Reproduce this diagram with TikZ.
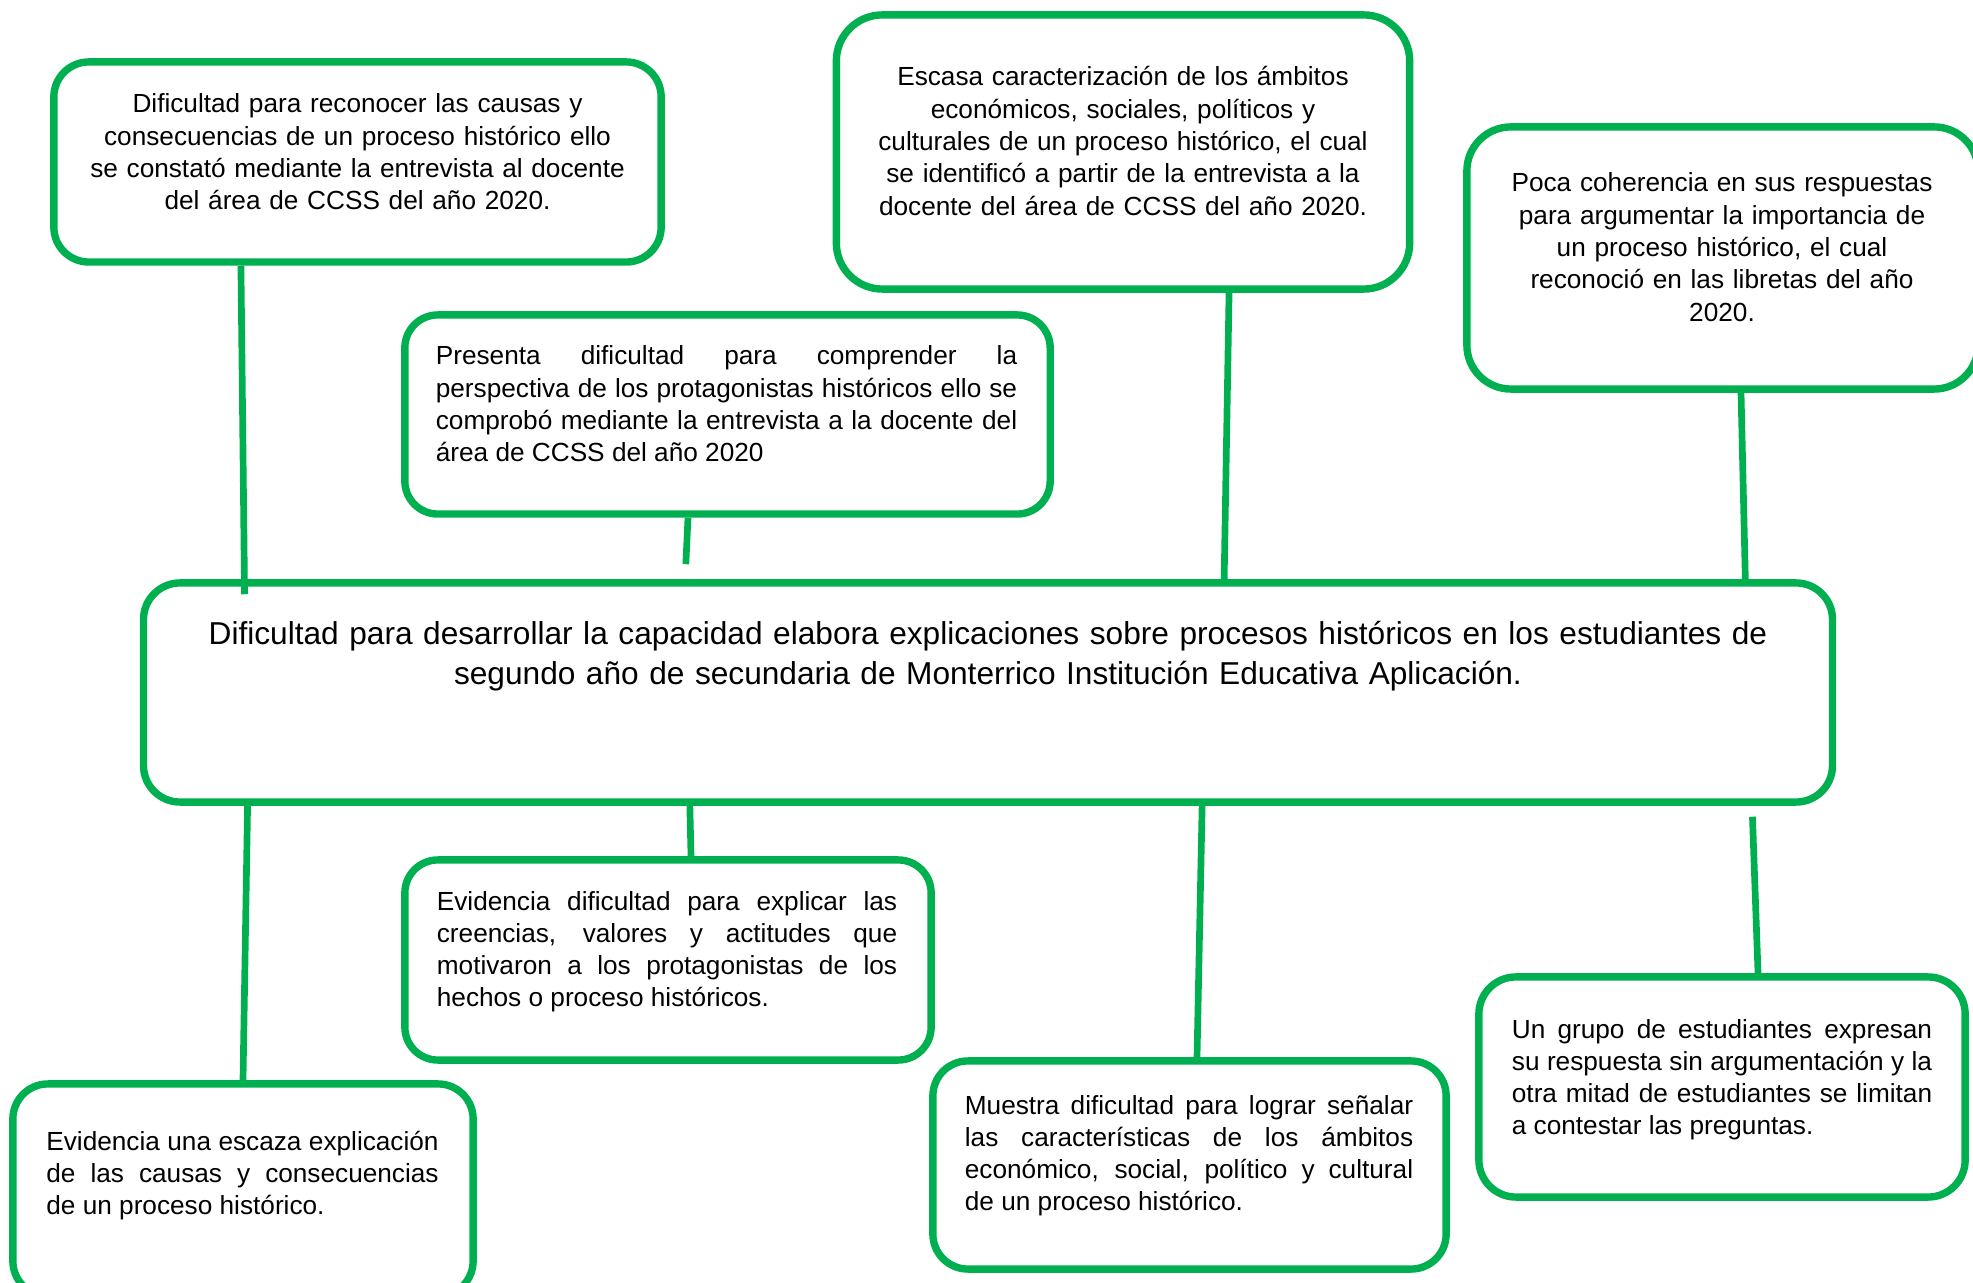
\documentclass[tikz,border=0pt]{standalone}
\usepackage{fontspec}
\setmainfont{Liberation Sans}
\definecolor{boxgreen}{RGB}{0,176,80}
\tolerance=10000
\hbadness=10000
\hyphenpenalty=10000
\begin{document}
\begin{tikzpicture}[x=0.01cm, y=-0.01cm,
      probbox/.style={draw=boxgreen, line width=2.1pt, rounded corners=0.35cm, inner sep=0pt},
      notetext/.style={inner sep=0pt, anchor=base, font=\fontsize{7.45}{9.19}\selectfont},
      linkline/.style={draw=boxgreen, line width=1.9pt}]
    \useasboundingbox (0,0) rectangle (1973,1283);
    \clip (0,0) rectangle (1973,1283);
    % central problem
    \node[probbox, minimum width=16.88cm, minimum height=2.19cm, rounded corners=0.365cm] (m) at (988,692.5) {};
    \node[notetext, font=\fontsize{9.0}{11.1}\selectfont, align=center, text width=16cm] (mt) at (988,645)
      {Dificultad para desarrollar la capacidad elabora explicaciones sobre procesos históricos en los estudiantes de\\
       segundo año de secundaria de Monterrico Institución Educativa Aplicación.};
    % upper boxes
    \node[probbox, minimum width=6.07cm, minimum height=2.00cm] (c1) at (357.5,162) {};
    \node[notetext, align=center, text width=5.6cm] (c1t) at (357.5,113)
      {Dificultad para reconocer las causas y\\ consecuencias de un proceso histórico ello\\ se constató mediante la entrevista al docente\\ del área de CCSS del año 2020.};
    \node[probbox, minimum width=6.45cm, minimum height=1.99cm, rounded corners=0.33cm] (c2) at (727.5,414.5) {};
    \node[notetext, align=justify, text width=5.81cm] (c2t) at (726.5,365)
      {Presenta dificultad para comprender la\linebreak perspectiva de los protagonistas históricos ello se\linebreak comprobó mediante la entrevista a la docente del\linebreak área de CCSS del año 2020};
    \node[probbox, minimum width=5.73cm, minimum height=2.74cm, rounded corners=0.46cm] (c3) at (1123,152) {};
    \node[notetext, align=center, text width=5.2cm] (c3t) at (1123,86)
      {Escasa caracterización de los ámbitos\\ económicos, sociales, políticos y\\ culturales de un proceso histórico, el cual\\ se identificó a partir de la entrevista a la\\ docente del área de CCSS del año 2020.};
    \node[probbox, minimum width=5.11cm, minimum height=2.62cm, rounded corners=0.44cm] (c4) at (1722.5,258) {};
    \node[notetext, align=center, text width=4.6cm] (c4t) at (1722,192)
      {Poca coherencia en sus respuestas\\ para argumentar la importancia de\\ un proceso histórico, el cual\\ reconoció en las libretas del año\\ 2020.};
    % lower boxes
    \node[probbox, minimum width=4.60cm, minimum height=2.12cm] (d1) at (243,1190) {};
    \node[notetext, align=justify, text width=3.92cm] (d1t) at (242.5,1150)
      {Evidencia una escaza explicación\linebreak de las causas y consecuencias\linebreak de un proceso histórico.};
    \node[probbox, minimum width=5.26cm, minimum height=2.00cm, rounded corners=0.33cm] (d2) at (668,960) {};
    \node[notetext, align=justify, text width=4.60cm] (d2t) at (667,910)
      {Evidencia dificultad para explicar las\linebreak creencias, valores y actitudes que\linebreak motivaron a los protagonistas de los\linebreak hechos o proceso históricos.};
    \node[probbox, minimum width=5.13cm, minimum height=2.08cm] (d3) at (1189.5,1165) {};
    \node[notetext, align=justify, text width=4.48cm] (d3t) at (1189,1114)
      {Muestra dificultad para lograr señalar\linebreak las características de los ámbitos\linebreak económico, social, político y cultural\linebreak de un proceso histórico.};
    \node[probbox, minimum width=4.86cm, minimum height=2.20cm, rounded corners=0.37cm] (d4) at (1722,1087) {};
    \node[notetext, align=justify, text width=4.20cm] (d4t) at (1722,1038)
      {Un grupo de estudiantes expresan\linebreak su respuesta sin argumentación y la\linebreak otra mitad de estudiantes se limitan\linebreak a contestar las preguntas.};
    % connectors
    \draw[linkline] ([xshift=-1.165cm]c1.south) -- ([xshift=-7.43cm, yshift=-0.15cm]m.north);
    \draw[linkline] ([xshift=-0.395cm]c2.south) -- ([xshift=-3.02cm, yshift=0.15cm]m.north);
    \draw[linkline] ([xshift=1.06cm]c3.south) -- ([xshift=2.36cm]m.north);
    \draw[linkline] ([xshift=0.185cm]c4.south) -- ([xshift=7.57cm, yshift=-0.05cm]m.north);
    \draw[linkline] ([xshift=-7.40cm]m.south) -- (d1.north);
    \draw[linkline] ([xshift=-2.98cm]m.south) -- ([xshift=0.23cm]d2.north);
    \draw[linkline] ([xshift=2.14cm]m.south) -- ([xshift=0.075cm]d3.north);
    \draw[linkline] ([xshift=7.64cm, yshift=-0.11cm]m.south) -- ([xshift=0.36cm]d4.north);
  \end{tikzpicture}
\end{document}
